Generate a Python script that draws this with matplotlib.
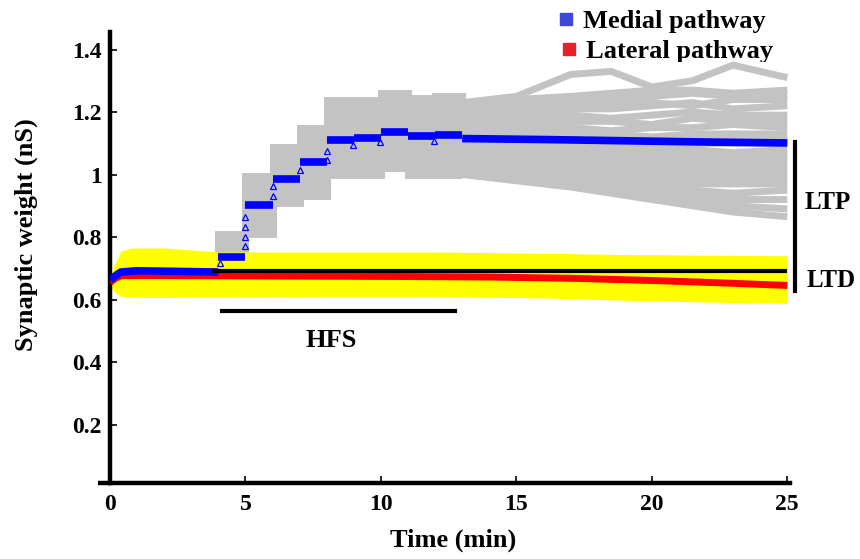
import matplotlib.pyplot as plt

plt.rcParams['font.family'] = ['Liberation Serif', 'DejaVu Serif']
plt.rcParams['font.weight'] = 'bold'
plt.rcParams['axes.labelweight'] = 'bold'

# ---- medial pathway (blue mean) ----
MEDIAL_RAMP_T = [0, 0.2, 0.4, 1.0, 4.0]
MEDIAL_RAMP_W = [0.662, 0.676, 0.688, 0.692, 0.688]
MEDIAL_STEP_T = [4, 5, 6, 7, 8, 9, 10, 11, 12, 13]
MEDIAL_STEP_W = [0.737, 0.902, 0.985, 1.041, 1.110, 1.116, 1.137, 1.123, 1.127]
MEDIAL_LATE_T = [13, 16, 19, 22, 25]
MEDIAL_LATE_W = [1.115, 1.112, 1.108, 1.104, 1.101]

# open triangles marking the HFS jumps
TRI_T = [4.06, 4.98, 4.98, 4.98, 4.98, 6.03, 6.03, 7.01, 8.0, 8.0, 8.97, 9.96, 11.95]
TRI_W = [0.716, 0.865, 0.833, 0.801, 0.771, 0.963, 0.931, 1.014, 1.075, 1.046, 1.094, 1.105, 1.108]

# ---- lateral pathway (red mean + yellow spread) ----
LATERAL_T = [0, 0.2, 0.4, 1, 4, 10, 14, 17, 20, 23, 25]
LATERAL_W = [0.655, 0.668, 0.676, 0.677, 0.676, 0.674, 0.672, 0.668, 0.661, 0.652, 0.645]
SPREAD_T = [0, 0.15, 0.4, 0.8, 2, 4, 8, 12, 16, 19, 22, 25]
SPREAD_HI = [0.66, 0.71, 0.755, 0.765, 0.765, 0.752, 0.752, 0.752, 0.748, 0.744, 0.742, 0.740]
SPREAD_LO = [0.645, 0.625, 0.610, 0.607, 0.607, 0.608, 0.610, 0.610, 0.605, 0.598, 0.592, 0.588]

# baseline
BASE_START, BASE_END, BASE_W = 3.76, 25, 0.692

# ---- individual medial synapses (gray) ----
GRAY_STEP_T = [0.4, 4, 5, 6, 7, 8, 9, 10, 11, 12, 13]
GRAY_DRIFT_T = [13, 15, 17, 18.5, 20, 21.5, 23, 25]
GRAY_STEPS = [
    [0.72, 0.81, 0.995, 1.088, 1.15, 1.238, 1.24, 1.26, 1.245, 1.25],
    [0.72, 0.80, 0.98, 1.07, 1.13, 1.22, 1.23, 1.25, 1.24, 1.24],
    [0.71, 0.79, 0.97, 1.06, 1.12, 1.20, 1.21, 1.23, 1.22, 1.22],
    [0.71, 0.78, 0.96, 1.04, 1.10, 1.19, 1.20, 1.22, 1.21, 1.21],
    [0.71, 0.77, 0.95, 1.03, 1.09, 1.17, 1.18, 1.20, 1.19, 1.20],
    [0.70, 0.77, 0.94, 1.02, 1.08, 1.16, 1.17, 1.19, 1.18, 1.18],
    [0.70, 0.76, 0.93, 1.01, 1.07, 1.15, 1.16, 1.18, 1.17, 1.17],
    [0.70, 0.75, 0.92, 1.00, 1.06, 1.14, 1.15, 1.17, 1.16, 1.16],
    [0.70, 0.75, 0.91, 0.99, 1.05, 1.13, 1.14, 1.16, 1.15, 1.15],
    [0.69, 0.74, 0.90, 0.99, 1.04, 1.12, 1.13, 1.15, 1.14, 1.14],
    [0.69, 0.74, 0.90, 0.98, 1.04, 1.11, 1.12, 1.14, 1.13, 1.13],
    [0.69, 0.73, 0.89, 0.97, 1.03, 1.10, 1.11, 1.13, 1.12, 1.12],
    [0.69, 0.73, 0.88, 0.97, 1.02, 1.09, 1.10, 1.12, 1.11, 1.11],
    [0.68, 0.72, 0.88, 0.96, 1.02, 1.08, 1.09, 1.11, 1.10, 1.10],
    [0.68, 0.72, 0.87, 0.95, 1.01, 1.07, 1.08, 1.10, 1.09, 1.09],
    [0.68, 0.71, 0.86, 0.95, 1.00, 1.06, 1.07, 1.09, 1.08, 1.08],
    [0.67, 0.71, 0.85, 0.94, 0.99, 1.05, 1.06, 1.08, 1.07, 1.07],
    [0.67, 0.71, 0.85, 0.94, 0.98, 1.04, 1.05, 1.07, 1.06, 1.06],
    [0.67, 0.70, 0.84, 0.93, 0.97, 1.03, 1.04, 1.06, 1.05, 1.05],
    [0.66, 0.70, 0.83, 0.93, 0.96, 1.02, 1.03, 1.05, 1.03, 1.03],
    [0.66, 0.70, 0.82, 0.92, 0.95, 1.01, 1.01, 1.03, 1.02, 1.02],
    [0.65, 0.70, 0.81, 0.91, 0.93, 1.00, 1.00, 1.02, 1.00, 1.00],
]
GRAY_DRIFT = [
    [1.23, 1.25, 1.32, 1.33, 1.28, 1.30, 1.35, 1.31],
    [1.22, 1.24, 1.25, 1.26, 1.27, 1.27, 1.26, 1.27],
    [1.21, 1.22, 1.24, 1.24, 1.25, 1.26, 1.25, 1.255],
    [1.20, 1.21, 1.22, 1.23, 1.23, 1.22, 1.24, 1.24],
    [1.19, 1.20, 1.21, 1.21, 1.22, 1.23, 1.21, 1.22],
    [1.18, 1.18, 1.19, 1.18, 1.19, 1.20, 1.19, 1.19],
    [1.16, 1.16, 1.17, 1.17, 1.16, 1.18, 1.17, 1.17],
    [1.15, 1.15, 1.15, 1.14, 1.15, 1.15, 1.16, 1.15],
    [1.14, 1.13, 1.13, 1.13, 1.12, 1.13, 1.13, 1.13],
    [1.12, 1.12, 1.12, 1.11, 1.11, 1.11, 1.11, 1.11],
    [1.11, 1.10, 1.10, 1.10, 1.09, 1.10, 1.10, 1.10],
    [1.10, 1.09, 1.09, 1.08, 1.08, 1.08, 1.07, 1.08],
    [1.09, 1.08, 1.07, 1.07, 1.06, 1.06, 1.06, 1.06],
    [1.08, 1.07, 1.06, 1.05, 1.05, 1.04, 1.05, 1.045],
    [1.07, 1.06, 1.05, 1.04, 1.04, 1.03, 1.03, 1.03],
    [1.06, 1.05, 1.04, 1.03, 1.02, 1.01, 1.01, 1.01],
    [1.05, 1.04, 1.02, 1.01, 1.00, 0.99, 0.99, 0.99],
    [1.04, 1.03, 1.01, 0.99, 0.98, 0.97, 0.97, 0.97],
    [1.03, 1.01, 0.99, 0.98, 0.96, 0.95, 0.94, 0.95],
    [1.02, 1.00, 0.98, 0.96, 0.94, 0.93, 0.92, 0.92],
    [1.01, 0.99, 0.97, 0.95, 0.93, 0.91, 0.90, 0.89],
    [1.00, 0.98, 0.96, 0.94, 0.92, 0.90, 0.88, 0.865],
]

X_TICKS = [0, 5, 10, 15, 20, 25]
Y_TICKS = [0.2, 0.4, 0.6, 0.8, 1.0, 1.2, 1.4]
Y_LABELS = ['0.2', '0.4', '0.6', '0.8', '1', '1.2', '1.4']

GRAY = '#c3c3c3'
BLUE = '#0000ff'
RED = '#ff0000'
YELLOW = '#ffff00'

fig = plt.figure(figsize=(8.6, 5.59), dpi=100)
ax = fig.add_axes([110 / 860, 1 - 483 / 559, 680 / 860, 451 / 559])

line_kw = dict(color=GRAY, lw=5, zorder=1, solid_capstyle='butt',
               solid_joinstyle='miter')
for steps, drift in zip(GRAY_STEPS, GRAY_DRIFT):
    ax.plot(GRAY_STEP_T, steps + [drift[0]], drawstyle='steps-post', **line_kw)
    ax.plot(GRAY_DRIFT_T, drift, **line_kw)

ax.fill_between(SPREAD_T, SPREAD_LO, SPREAD_HI, color=YELLOW, lw=0, zorder=2)
ax.plot(LATERAL_T, LATERAL_W, color=RED, lw=5, zorder=3, solid_capstyle='butt')

ax.plot(MEDIAL_RAMP_T, MEDIAL_RAMP_W, color=BLUE, lw=5.5, zorder=4,
        solid_capstyle='butt')
ax.hlines(MEDIAL_STEP_W, MEDIAL_STEP_T[:-1], MEDIAL_STEP_T[1:], color=BLUE,
          lw=5.5, zorder=4, capstyle='butt')
ax.plot(MEDIAL_LATE_T, MEDIAL_LATE_W, color=BLUE, lw=5.5, zorder=4,
        solid_capstyle='butt')
ax.plot(TRI_T, TRI_W, ls='none', marker='^', ms=5, mfc='none', mec=BLUE,
        mew=0.9, zorder=4.5)

ax.hlines(BASE_W, BASE_START, BASE_END, color='black', lw=3, zorder=5)

# HFS bar
ax.plot([4.13, 12.73], [0.563, 0.563], color='black', lw=3)
ax.text(8.15, 0.47, 'HFS', ha='center', va='center', fontsize=19)

# LTP / LTD brackets
ax.plot([25.28, 25.28], [0.694, 1.104], color='black', lw=3, clip_on=False)
ax.plot([25.28, 25.28], [0.627, 0.682], color='black', lw=3, clip_on=False)
ax.text(25.65, 0.912, 'LTP', ha='left', va='center', fontsize=18, clip_on=False)
ax.text(25.72, 0.662, 'LTD', ha='left', va='center', fontsize=18, clip_on=False)

ax.set_xlim(0, 25.1)
ax.set_ylim(0.013, 1.456)
ax.set_xticks(X_TICKS)
ax.set_yticks(Y_TICKS)
ax.set_yticklabels(Y_LABELS)
ax.tick_params(direction='in', length=5, width=1.2, labelsize=17)
ax.tick_params(axis='x', pad=8)
ax.tick_params(axis='y', pad=6)
for s in ['top', 'right']:
    ax.spines[s].set_visible(False)
for s in ['left', 'bottom']:
    ax.spines[s].set_linewidth(3.2)
ax.plot([-0.018, 0], [0, 0], transform=ax.transAxes, color='black', lw=3.2,
        clip_on=False, solid_capstyle='butt')

ax.set_xlabel('Time (min)', fontsize=19, fontweight='bold')
ax.xaxis.set_label_coords(0.504, -0.10)
ax.set_ylabel('Synaptic weight (nS)', fontsize=19, fontweight='bold')
ax.yaxis.set_label_coords(-0.106, 0.55)

# legend strip at the top, clipped like the original
lg = fig.add_axes([0, 1 - 62 / 559, 1, 62 / 559])
lg.set_xlim(0, 860)
lg.set_ylim(62, 0)
lg.axis('off')
lg.patch.set_alpha(0)
lg.plot([566], [19], marker='s', ms=9, color='#3c48d6', ls='none')
lg.plot([569], [49], marker='s', ms=9, color='#e8202a', ls='none')
lg.text(583, 28, 'Medial pathway', fontsize=19, va='baseline', clip_on=True)
lg.text(586, 58, 'Lateral pathway', fontsize=19, va='baseline', clip_on=True)

fig.savefig('out.png', dpi=100)
